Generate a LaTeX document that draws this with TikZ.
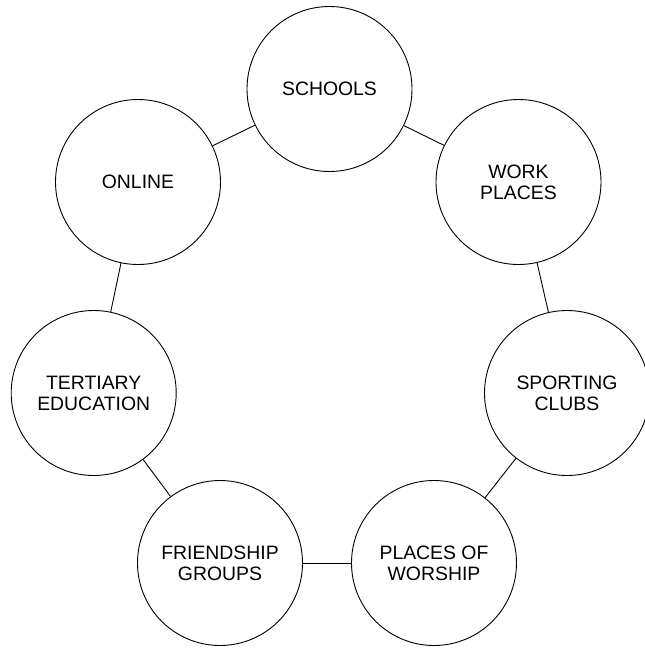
\documentclass[tikz,border=0pt]{standalone}
\usepackage{fontspec}
\setmainfont{Liberation Sans}
\begin{document}
\begin{tikzpicture}[x=1pt,y=-1pt,
  hub/.style={circle,draw,line width=0.9pt,minimum size=165pt,inner sep=0pt,
    align=center,font=\fontsize{19.4pt}{21pt}\selectfont},
  link/.style={draw,line width=0.9pt}]
  \useasboundingbox (0,0) rectangle (645,648);
  \clip (0,0) rectangle (645,648);
  \node[hub] (schools)    at (329.5,89)  {SCHOOLS};
  \node[hub] (work)       at (518.5,182) {WORK\\PLACES};
  \node[hub] (sporting)   at (567,393)   {SPORTING\\CLUBS};
  \node[hub] (worship)    at (434,563)   {PLACES OF\\WORSHIP};
  \node[hub] (friends)    at (220,563)   {FRIENDSHIP\\GROUPS};
  \node[hub] (tertiary)   at (93.7,393)  {TERTIARY\\EDUCATION};
  \node[hub] (online)     at (138,182)   {ONLINE};
  \draw[link] (schools) -- (work);
  \draw[link] (work) -- (sporting);
  \draw[link] (sporting) -- (worship);
  \draw[link] (worship) -- (friends);
  \draw[link] (friends) -- (tertiary);
  \draw[link] (tertiary) -- (online);
  \draw[link] (online) -- (schools);
\end{tikzpicture}
\end{document}
